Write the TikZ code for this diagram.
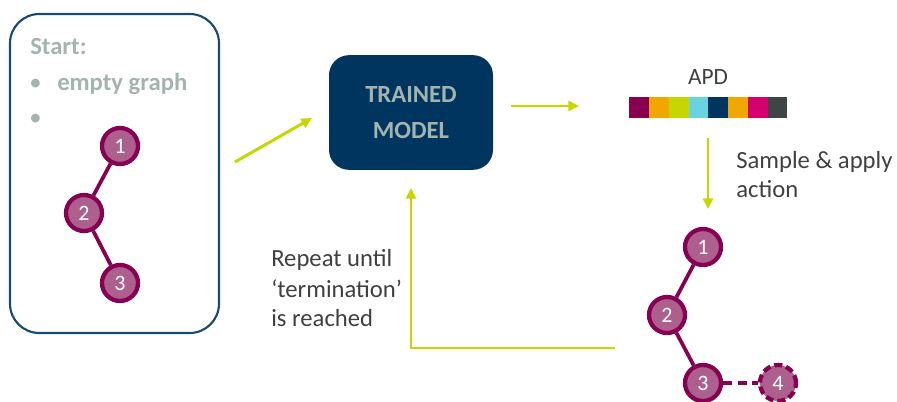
\documentclass[tikz,border=0pt]{standalone}
\usepackage{fontspec}
\setmainfont{Carlito}
\usetikzlibrary{arrows.meta}

\definecolor{lime}{HTML}{C5D600}
\definecolor{navy}{HTML}{003560}
\definecolor{frame}{HTML}{1A4A73}
\definecolor{plum}{HTML}{870052}
\definecolor{orchid}{HTML}{AD5F8E}
\definecolor{sage}{HTML}{A3B4AF}
\definecolor{ink}{HTML}{404040}
\definecolor{amber}{HTML}{F0A800}
\definecolor{sky}{HTML}{6AD2E0}
\definecolor{rose}{HTML}{D4006F}
\definecolor{slate}{HTML}{3F4544}

\tikzset{
  flow/.style={draw=lime, line width=2.2pt, -{Triangle[length=8pt,width=7.5pt]}},
  atom/.style={circle, draw=plum, fill=orchid, line width=3.2pt, minimum size=27pt,
               inner sep=0pt, text=white, font=\fontsize{16.5}{16.5}\selectfont},
  bond/.style={draw=plum, line width=2.8pt},
  label/.style={anchor=base west, inner sep=0pt, text=ink, font=\fontsize{18.5}{22}\selectfont},
  cell/.style={minimum width=14.8pt, minimum height=15.75pt, inner sep=0pt, anchor=west}
}

\begin{document}
\begin{tikzpicture}[x=0.75pt, y=-0.75pt]
  \useasboundingbox (0,0) rectangle (897,401);

  % starting graph panel
  \draw[frame, line width=1.6pt, rounded corners=22pt] (10,14) rectangle (219,333);
  \node[label, text=sage, font=\fontsize{18.5}{22}\selectfont\bfseries] (start) at (30,54) {Start:};
  \node[label, text=sage] (b1) at (29,90) {\textbullet};
  \node[label, text=sage, font=\fontsize{18.5}{22}\selectfont\bfseries] (empty) at (57,90) {empty graph};
  \node[label, text=sage] (b2) at (29,125) {\textbullet};

  \node[atom] (s1) at (120,146) {1};
  \node[atom] (s2) at (84,213) {2};
  \node[atom] (s3) at (120,283) {3};
  \path (s1) edge[bond] (s2)
        (s2) edge[bond] (s3);

  % model
  \node[fill=navy, rounded corners=15pt, minimum width=123pt, minimum height=86pt,
        align=center, text=sage, font=\fontsize{18.5}{27}\selectfont\bfseries] (model)
        at (411,112.5) {TRAINED\\MODEL};

  % action probability distribution
  \node[anchor=base, inner sep=0pt, text=ink, font=\fontsize{17.5}{20}\selectfont] (apd) at (708,84) {APD};
  \foreach \c [count=\i] in {plum, amber, lime, sky, navy, amber, rose, slate}
    \node[cell, fill=\c] (cell\i) at ({629+(\i-1)*19.75},107.5) {};

  % new graph after one step
  \node[atom] (t1) at (703,247) {1};
  \node[atom] (t2) at (667,315) {2};
  \node[atom] (t3) at (703,383) {3};
  \node[atom, dashed, dash pattern=on 6pt off 3pt] (t4) at (778,383) {4};
  \path (t1) edge[bond] (t2)
        (t2) edge[bond] (t3)
        (t3) edge[bond, dash pattern=on 7pt off 4pt] (t4);

  % arrows
  \coordinate (in0) at (235,162);
  \coordinate (in1) at (312,118);
  \coordinate (out0) at (511,106);
  \coordinate (out1) at (579,106);
  \coordinate (smp0) at (708,138);
  \coordinate (smp1) at (708,209);
  \coordinate (back0) at (615,348);
  \coordinate (back1) at (411,188);
  \draw[flow] (in0) -- (in1);
  \draw[flow] (out0) -- (out1);
  \draw[flow] (smp0) -- (smp1);
  \draw[flow] (back0) -| (back1);

  \node[label] (sample) at (736,168) {Sample \& apply};
  \node[label] (action) at (736,197) {action};
  \node[label] (rep1) at (271,266) {Repeat until};
  \node[label] (rep2) at (271,297) {`termination'};
  \node[label] (rep3) at (271,326) {is reached};
\end{tikzpicture}
\end{document}
